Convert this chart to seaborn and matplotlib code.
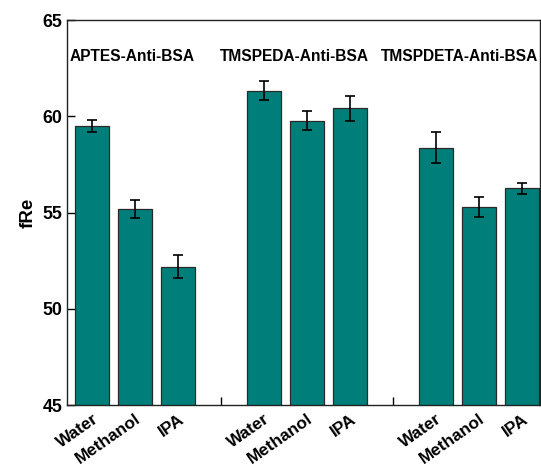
import pandas as pd
import matplotlib
matplotlib.use('Agg')
import matplotlib.pyplot as plt
import seaborn as sns

groups = ['APTES-Anti-BSA', 'TMSPEDA-Anti-BSA', 'TMSPDETA-Anti-BSA']
solvents = ['Water', 'Methanol', 'IPA']
fre_means = [59.5, 55.2, 52.2,
             61.33, 59.77, 60.43,
             58.37, 55.27, 56.26]
fre_errs = [0.3, 0.47, 0.6,
            0.49, 0.5, 0.65,
            0.8, 0.52, 0.29]

rows = []
for gi, g in enumerate(groups):
    for si, s in enumerate(solvents):
        rows.append({'key': g + '|' + s, 'group': g, 'solvent': s,
                     'fRe': fre_means[gi * 3 + si], 'err': fre_errs[gi * 3 + si]})
df = pd.DataFrame(rows)

# slot order with empty gaps between the groups
order = []
for gi, g in enumerate(groups):
    order += [g + '|' + s for s in solvents]
    if gi < len(groups) - 1:
        order.append('gap%d' % gi)

sns.set_style('ticks')
plt.rcParams['font.family'] = ['Liberation Sans', 'DejaVu Sans']
plt.rcParams['font.weight'] = 'bold'
plt.rcParams['text.color'] = 'black'

fig = plt.figure(figsize=(5.41, 4.70), dpi=100)
ax = fig.add_axes([0.124, 0.138, 0.874, 0.819])

sns.barplot(data=df, x='key', y='fRe', order=order, color='#007F7A',
            saturation=1, width=0.8, edgecolor='#2a2a2a', linewidth=0.9,
            errorbar=None, ax=ax)

pos = [order.index(k) for k in df['key']]
ax.errorbar(pos, df['fRe'], yerr=df['err'], fmt='none', ecolor='black',
            elinewidth=1.2, capsize=3.3, capthick=1.2)

ax.set_ylim(45, 65)
ax.set_yticks([45, 50, 55, 60, 65])
ax.set_xlim(-0.58, 10.42)
ax.set_xticks(range(len(order)))
labels = [k.split('|')[1] if '|' in k else '' for k in order]
ax.set_xticklabels(labels, rotation=35, ha='right', rotation_mode='anchor',
                   fontsize=12.3, fontweight='bold')
ax.tick_params(axis='both', direction='in', length=5.5, width=1,
               colors='black', labelcolor='black')
ax.tick_params(axis='x', pad=4.5)
ax.tick_params(axis='y', labelsize=12.8)
for t in ax.get_yticklabels():
    t.set_fontweight('bold')

ax.set_xlabel('')
ax.set_ylabel('fRe', fontsize=13.5, fontweight='bold', color='black')
for sp in ax.spines.values():
    sp.set_visible(True)
    sp.set_linewidth(1)
    sp.set_color('#222222')

label_x = [-0.53, 2.98, 6.72]
for g, lx in zip(groups, label_x):
    ax.text(lx, 63.1, g, ha='left', va='center', fontsize=11.2,
            fontweight='bold', color='black')

fig.savefig('out.png', dpi=100)
